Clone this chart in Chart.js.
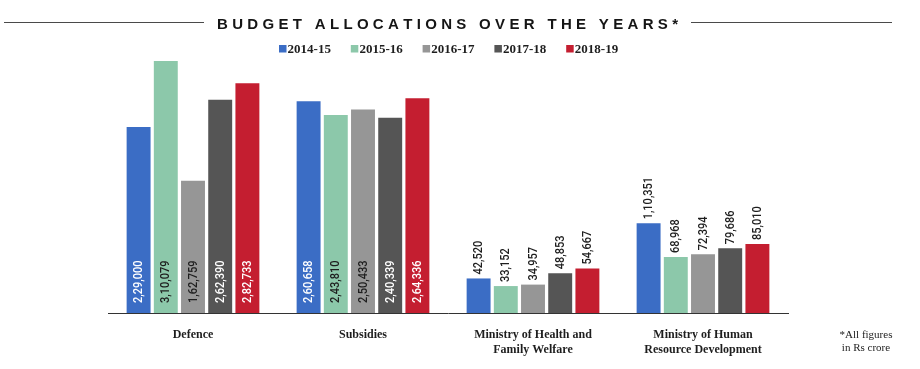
<!DOCTYPE html>
<html>
<head>
<meta charset="utf-8">
<script src="https://cdn.jsdelivr.net/npm/chart.js@4.4.1/dist/chart.umd.min.js"></script>
<style>
  html, body { margin: 0; padding: 0; background: #fff; }
  #wrap { width: 920px; height: 369px; }
</style>
</head>
<body>
<div id="wrap"><canvas id="chart" width="920" height="369"></canvas></div>
<script>
// data (Rs crore)
const categories = ['Defence', 'Subsidies', ['Ministry of Health and', 'Family Welfare'], ['Ministry of Human', 'Resource Development']];
const years = ['2014-15', '2015-16', '2016-17', '2017-18', '2018-19'];
const v2014 = [229000, 260658, 42520, 110351];
const v2015 = [310079, 243810, 33152, 68968];
const v2016 = [162759, 250433, 34957, 72394];
const v2017 = [262390, 240339, 48853, 79686];
const v2018 = [282733, 264336, 54667, 85010];
const series = [v2014, v2015, v2016, v2017, v2018];

const colors = ['#3b6dc5', '#8cc8aa', '#969696', '#555555', '#c41e30'];
const insideText = ['#ffffff', '#1e1e1e', '#1e1e1e', '#ffffff', '#ffffff'];
const insideCats = [true, true, false, false];   // labels sit inside the bar for the big groups
const titleText = 'BUDGET ALLOCATIONS OVER THE YEARS*';
const noteLines = ['*All figures', 'in Rs crore'];

// indian digit grouping: 2,29,000
function fmt(n) {
    const s = String(n);
    const last3 = s.slice(-3);
    const rest = s.slice(0, -3);
    if (!rest) return last3;
    return rest.replace(/\B(?=(\d{2})+(?!\d))/g, ',') + ',' + last3;
}

const decor = {
    id: 'decor',
    beforeDraw(chart) {
        const ctx = chart.ctx;
        ctx.save();
        ctx.fillStyle = '#fff';
        ctx.fillRect(0, 0, chart.width, chart.height);
        ctx.restore();
    },
    afterDatasetsDraw(chart) {
        const ctx = chart.ctx;
        chart.data.datasets.forEach((ds, di) => {
            const meta = chart.getDatasetMeta(di);
            meta.data.forEach((bar, i) => {
                const inside = insideCats[i];
                ctx.save();
                ctx.translate(bar.x, inside ? bar.base - 10 : bar.y - 4);
                ctx.rotate(-Math.PI / 2);
                ctx.scale(0.88, 1);
                ctx.font = '500 12.5px Roboto';
                ctx.fillStyle = inside ? insideText[di] : '#1e1e1e';
                ctx.textAlign = 'left';
                ctx.textBaseline = 'middle';
                ctx.fillText(fmt(ds.data[i]), 0, 0.5);
                ctx.restore();
            });
        });
    },
    afterDraw(chart) {
        const ctx = chart.ctx;
        ctx.save();

        // title with rules either side
        ctx.strokeStyle = '#4a4a4a';
        ctx.lineWidth = 1.2;
        ctx.beginPath();
        ctx.moveTo(4, 22.5); ctx.lineTo(204, 22.5);
        ctx.moveTo(691, 22.5); ctx.lineTo(892, 22.5);
        ctx.stroke();

        ctx.font = 'bold 15px "Liberation Sans"';
        ctx.fillStyle = '#151515';
        ctx.textBaseline = 'alphabetic';
        ctx.textAlign = 'left';
        const chars = [...titleText];
        const widths = chars.map(c => ctx.measureText(c).width);
        const total = widths.reduce((a, b) => a + b, 0);
        const gap = (678 - 217 - total) / (chars.length - 1);
        let x = 217;
        chars.forEach((c, k) => {
            ctx.fillText(c, x, 29);
            x += widths[k] + gap;
        });

        // legend
        ctx.font = 'bold 13px "Liberation Serif"';
        ctx.textBaseline = 'alphabetic';
        chart.data.datasets.forEach((ds, di) => {
            const lx = 279 + di * 71.8;
            ctx.fillStyle = ds.backgroundColor;
            ctx.fillRect(lx, 45, 7.5, 7.5);
            ctx.fillStyle = '#1e1e1e';
            ctx.fillText(ds.label, lx + 8.6, 53.3);
        });

        // footnote
        ctx.font = '11px "Liberation Serif"';
        ctx.fillStyle = '#222';
        ctx.textAlign = 'center';
        ctx.textBaseline = 'middle';
        noteLines.forEach((t, k) => ctx.fillText(t, 866, 335 + k * 13.3));

        ctx.restore();
    }
};

new Chart(document.getElementById('chart'), {
    type: 'bar',
    data: {
        labels: categories,
        datasets: years.map((y, i) => ({
            label: y,
            data: series[i],
            backgroundColor: colors[i],
            borderWidth: 0,
            barPercentage: 0.88,
            categoryPercentage: 0.8
        }))
    },
    options: {
        responsive: false,
        animation: false,
        devicePixelRatio: 1,
        layout: { padding: { left: 108, right: 132, top: 53, bottom: 0 } },
        plugins: {
            legend: { display: false },
            title: { display: false },
            tooltip: { enabled: false }
        },
        scales: {
            x: {
                grid: { display: false, drawTicks: false },
                border: { display: true, color: '#333', width: 1 },
                ticks: {
                    color: '#1e1e1e',
                    font: { family: '"Liberation Serif"', weight: 'bold', size: 12, lineHeight: 1.25 },
                    padding: 14,
                    maxRotation: 0,
                    autoSkip: false
                },
                afterFit(scale) { scale.height = 56; }
            },
            y: {
                display: false,
                min: 0,
                max: 320000
            }
        }
    },
    plugins: [decor]
});
</script>
</body>
</html>
